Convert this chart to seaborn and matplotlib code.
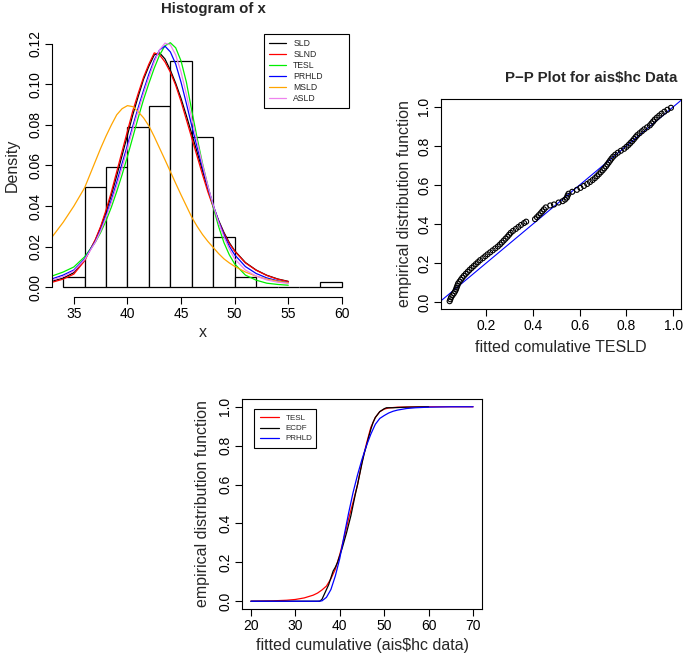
import numpy as np
import pandas as pd
import matplotlib
matplotlib.use("Agg")
import matplotlib.pyplot as plt
from matplotlib.lines import Line2D
import seaborn as sns

# Histogram of x (ais$hc), counts per 2-unit bin from 34 to 60
bin_edges = [34, 36, 38, 40, 42, 44, 46, 48, 50, 52, 54, 56, 58, 60]
bin_counts = [2, 20, 24, 32, 36, 45, 30, 10, 2, 0, 0, 0, 1]

# fitted densities
dens_x = [33, 34, 35, 36, 37, 37.5, 38, 38.5, 39, 39.5, 40, 40.5, 41, 41.5, 42, 42.5,
          43, 43.5, 44, 44.5, 45, 45.5, 46, 46.5, 47, 47.5, 48, 48.5, 49, 49.5, 50,
          51, 52, 53, 54, 55]
sld = [0.0030, 0.0045, 0.0072, 0.0135, 0.0232, 0.0295, 0.0370, 0.0455, 0.0550, 0.0650,
       0.0750, 0.0850, 0.0940, 0.1025, 0.1090, 0.1145, 0.1155, 0.1125, 0.1070, 0.1005,
       0.0930, 0.0845, 0.0755, 0.0665, 0.0575, 0.0485, 0.0400, 0.0330, 0.0270, 0.0220,
       0.0180, 0.0122, 0.0085, 0.0059, 0.0041, 0.0029]
slnd = [0.0025, 0.0040, 0.0065, 0.0130, 0.0235, 0.0300, 0.0380, 0.0470, 0.0570, 0.0670,
        0.0770, 0.0870, 0.0955, 0.1035, 0.1100, 0.1155, 0.1145, 0.1110, 0.1060, 0.0995,
        0.0915, 0.0825, 0.0735, 0.0645, 0.0555, 0.0470, 0.0395, 0.0325, 0.0265, 0.0215,
        0.0178, 0.0120, 0.0084, 0.0058, 0.0040, 0.0028]
tesl = [0.0056, 0.0075, 0.0100, 0.0150, 0.0222, 0.0270, 0.0328, 0.0395, 0.0472, 0.0555,
        0.0645, 0.0740, 0.0835, 0.0925, 0.1005, 0.1080, 0.1145, 0.1190, 0.1205, 0.1180,
        0.1115, 0.1010, 0.0870, 0.0735, 0.0610, 0.0500, 0.0395, 0.0300, 0.0220, 0.0160,
        0.0115, 0.0060, 0.0035, 0.0020, 0.0014, 0.0010]
prhld = [0.0042, 0.0060, 0.0085, 0.0140, 0.0225, 0.0283, 0.0352, 0.0430, 0.0518, 0.0610,
         0.0700, 0.0795, 0.0885, 0.0970, 0.1050, 0.1120, 0.1170, 0.1188, 0.1160, 0.1100,
         0.1010, 0.0905, 0.0795, 0.0690, 0.0590, 0.0495, 0.0405, 0.0325, 0.0258, 0.0202,
         0.0160, 0.0102, 0.0068, 0.0046, 0.0032, 0.0023]
msld = [0.0250, 0.0320, 0.0400, 0.0490, 0.0620, 0.0685, 0.0745, 0.0800, 0.0850, 0.0880,
        0.0895, 0.0890, 0.0865, 0.0835, 0.0795, 0.0742, 0.0685, 0.0628, 0.0570, 0.0512,
        0.0455, 0.0400, 0.0345, 0.0300, 0.0260, 0.0226, 0.0196, 0.0166, 0.0140, 0.0120,
        0.0103, 0.0075, 0.0055, 0.0040, 0.0030, 0.0022]
asld = [0.0036, 0.0053, 0.0080, 0.0136, 0.0222, 0.0278, 0.0344, 0.0418, 0.0500, 0.0590,
        0.0685, 0.0780, 0.0870, 0.0955, 0.1035, 0.1110, 0.1170, 0.1203, 0.1195, 0.1145,
        0.1060, 0.0950, 0.0830, 0.0715, 0.0605, 0.0500, 0.0405, 0.0320, 0.0248, 0.0188,
        0.0140, 0.0085, 0.0055, 0.0036, 0.0025, 0.0019]
curve_names = ["SLD", "SLND", "TESL", "PRHLD", "MSLD", "ASLD"]
curve_colors = ["black", "red", "#00ee00", "blue", "orange", "violet"]

# P-P plot: fitted TESLD cdf vs empirical cdf
pp_fit = [0.044, 0.047, 0.050, 0.056, 0.062, 0.067, 0.071, 0.074, 0.077, 0.080,
          0.086, 0.092, 0.098, 0.105, 0.113, 0.121, 0.129, 0.138, 0.147, 0.156,
          0.165, 0.174, 0.186, 0.196, 0.206, 0.217, 0.228, 0.239, 0.250, 0.259,
          0.267, 0.275, 0.283, 0.291, 0.298, 0.305, 0.315, 0.327, 0.338, 0.349,
          0.362, 0.371, 0.409, 0.417, 0.425, 0.433, 0.440, 0.447, 0.455, 0.474,
          0.490, 0.510, 0.527, 0.537, 0.545, 0.548, 0.552, 0.568, 0.588, 0.603,
          0.618, 0.632, 0.644, 0.655, 0.665, 0.674, 0.682, 0.690, 0.698, 0.705,
          0.712, 0.718, 0.724, 0.730, 0.736, 0.743, 0.752, 0.763, 0.776, 0.790,
          0.800, 0.809, 0.817, 0.825, 0.832, 0.839, 0.846, 0.856, 0.866, 0.876,
          0.888, 0.900, 0.907, 0.914, 0.921, 0.930, 0.940, 0.950, 0.962, 0.975, 0.990]
pp_emp = [0.005, 0.015, 0.025, 0.035, 0.045, 0.055, 0.065, 0.075, 0.085, 0.095,
          0.105, 0.115, 0.125, 0.135, 0.145, 0.155, 0.165, 0.175, 0.185, 0.195,
          0.205, 0.215, 0.225, 0.235, 0.245, 0.255, 0.265, 0.275, 0.285, 0.295,
          0.305, 0.315, 0.325, 0.335, 0.345, 0.355, 0.365, 0.375, 0.385, 0.395,
          0.405, 0.412, 0.425, 0.435, 0.445, 0.455, 0.465, 0.475, 0.485, 0.495,
          0.500, 0.510, 0.517, 0.525, 0.535, 0.545, 0.555, 0.565, 0.575, 0.585,
          0.595, 0.605, 0.615, 0.625, 0.635, 0.645, 0.655, 0.665, 0.675, 0.685,
          0.695, 0.705, 0.715, 0.725, 0.735, 0.745, 0.755, 0.765, 0.775, 0.785,
          0.795, 0.805, 0.815, 0.825, 0.835, 0.845, 0.855, 0.865, 0.875, 0.885,
          0.895, 0.905, 0.915, 0.925, 0.935, 0.945, 0.955, 0.965, 0.975, 0.985, 0.995]

# cdf comparison
tesl_cdf_x = [20, 25, 28, 30, 32, 34, 35, 36, 37, 38, 39, 40, 41, 42, 43, 44, 45, 46,
              47, 48, 49, 50, 51, 53, 56, 60, 70]
tesl_cdf = [0.000, 0.002, 0.005, 0.009, 0.017, 0.031, 0.042, 0.058, 0.078, 0.115, 0.165,
            0.240, 0.330, 0.425, 0.510, 0.600, 0.715, 0.810, 0.895, 0.945, 0.975, 0.988,
            0.994, 0.998, 0.999, 1.000, 1.000]
ecdf_x = [20, 35.5, 36, 37, 37.5, 38, 38.5, 39, 39.5, 40, 40.5, 41, 41.5, 42, 42.5, 43,
          43.5, 44, 44.5, 45, 45.5, 46, 46.5, 47, 47.5, 48, 48.5, 49, 50, 50.5, 52, 55, 60]
ecdf_y = [0.000, 0.000, 0.010, 0.060, 0.085, 0.120, 0.155, 0.175, 0.200, 0.235, 0.270,
          0.310, 0.350, 0.395, 0.440, 0.495, 0.550, 0.600, 0.655, 0.710, 0.760, 0.800,
          0.845, 0.885, 0.920, 0.945, 0.960, 0.975, 0.990, 0.995, 0.995, 0.998, 1.000]
prhld_cdf_x = [20, 35, 36, 37, 38, 39, 40, 41, 42, 43, 44, 45, 46, 47, 48, 49, 50, 51,
               52, 53, 55, 57, 60, 65, 70]
prhld_cdf = [0.000, 0.000, 0.002, 0.020, 0.060, 0.130, 0.220, 0.340, 0.455, 0.560, 0.650,
             0.730, 0.800, 0.860, 0.910, 0.940, 0.955, 0.968, 0.977, 0.983, 0.991, 0.995,
             0.998, 1.000, 1.000]

sns.set_style("ticks")
plt.rcParams["font.family"] = ["Liberation Sans", "DejaVu Sans"]
plt.rcParams["axes.linewidth"] = 0.8
plt.rcParams["xtick.major.size"] = 5
plt.rcParams["ytick.major.size"] = 5
plt.rcParams["xtick.major.width"] = 0.8
plt.rcParams["ytick.major.width"] = 0.8
plt.rcParams["xtick.color"] = "black"
plt.rcParams["ytick.color"] = "black"
plt.rcParams["axes.edgecolor"] = "black"

W, H = 685, 653
fig = plt.figure(figsize=(W / 100, H / 100), dpi=100)


def box(l, t, r, b):
    return [l / W, 1 - b / H, (r - l) / W, (b - t) / H]


def r_ticks(ax):
    ax.tick_params(axis="both", labelsize=10, pad=2)
    ax.tick_params(axis="y", labelrotation=90)
    for lab in ax.get_yticklabels():
        lab.set_va("center")


# ---- panel 1: histogram with fitted densities
ax1 = fig.add_axes(box(52, 34, 353, 297))
hist_mid = [(a + b) / 2 for a, b in zip(bin_edges[:-1], bin_edges[1:])]
sns.histplot(x=hist_mid, weights=bin_counts, bins=bin_edges, stat="density",
             color="white", edgecolor="black", linewidth=0.9, alpha=1, ax=ax1)
for name, col, vals in zip(curve_names, curve_colors, [sld, slnd, tesl, prhld, msld, asld]):
    sns.lineplot(x=dens_x, y=vals, color=col, lw=0.9, ax=ax1, sort=False)
ax1.set_xlim(32.96, 61.04)
ax1.set_ylim(-0.0048, 0.1248)
ax1.set_xticks([35, 40, 45, 50, 55, 60])
ax1.set_yticks([0, 0.02, 0.04, 0.06, 0.08, 0.10, 0.12])
ax1.set_yticklabels(["0.00", "0.02", "0.04", "0.06", "0.08", "0.10", "0.12"])
ax1.spines["top"].set_visible(False)
ax1.spines["right"].set_visible(False)
ax1.spines["left"].set_bounds(0, 0.12)
ax1.spines["bottom"].set_bounds(35, 60)
r_ticks(ax1)
ax1.set_xlabel("x", fontsize=11.5, labelpad=3)
ax1.set_ylabel("Density", fontsize=11.5, labelpad=6)
handles = [Line2D([], [], color=c, lw=0.9) for c in curve_colors]
leg = ax1.legend(handles, curve_names, loc="upper left",
                 bbox_to_anchor=(264 / W, 1 - 34 / H, 85 / W, 0.0),
                 bbox_transform=fig.transFigure, mode="expand", fontsize=6.2,
                 frameon=True, fancybox=False, edgecolor="black", framealpha=1,
                 handlelength=1.9, handletextpad=0.9, labelspacing=0.22,
                 borderpad=0.6, borderaxespad=0)
leg.get_frame().set_linewidth(0.8)
fig.text(213.5 / W, 1 - 9 / H, "Histogram of x", ha="center", va="center",
         fontsize=10.8, fontweight="bold")

# ---- panel 2: P-P plot
ax2 = fig.add_axes(box(441, 99, 681, 309))
sns.scatterplot(x=pp_fit, y=pp_emp, marker="o", s=13, facecolors="none",
                edgecolors="black", linewidth=0.8, ax=ax2, zorder=3)
ax2.axline((0, 0), (1, 1), color="blue", lw=0.8, zorder=2)
ax2.set_xlim(0.007, 1.033)
ax2.set_ylim(-0.035, 1.04)
ax2.set_xticks([0.2, 0.4, 0.6, 0.8, 1.0])
ax2.set_xticklabels(["0.2", "0.4", "0.6", "0.8", "1.0"])
ax2.set_yticks([0.0, 0.2, 0.4, 0.6, 0.8, 1.0])
ax2.set_yticklabels(["0.0", "0.2", "0.4", "0.6", "0.8", "1.0"])
r_ticks(ax2)
ax2.set_xlabel("fitted comulative TESLD", fontsize=11.5, labelpad=5)
ax2.set_ylabel("empirical distribution function", fontsize=11.5, labelpad=4)
fig.text(591 / W, 1 - 78 / H, "P\u2212P Plot for ais$hc Data", ha="center", va="center",
         fontsize=10.8, fontweight="bold")

# ---- panel 3: cdfs
ax3 = fig.add_axes(box(242, 399, 482, 609))
sns.lineplot(x=tesl_cdf_x, y=tesl_cdf, color="red", lw=0.9, ax=ax3, sort=False)
sns.lineplot(x=ecdf_x, y=ecdf_y, color="black", lw=0.9, ax=ax3, sort=False)
sns.lineplot(x=prhld_cdf_x, y=prhld_cdf, color="blue", lw=0.9, ax=ax3, sort=False)
ax3.set_xlim(18, 72)
ax3.set_ylim(-0.04, 1.04)
ax3.set_xticks([20, 30, 40, 50, 60, 70])
ax3.set_yticks([0.0, 0.2, 0.4, 0.6, 0.8, 1.0])
ax3.set_yticklabels(["0.0", "0.2", "0.4", "0.6", "0.8", "1.0"])
r_ticks(ax3)
ax3.set_xlabel("fitted cumulative (ais$hc data)", fontsize=11.5, labelpad=4)
ax3.set_ylabel("empirical distribution function", fontsize=11.5, labelpad=6)
h3 = [Line2D([], [], color=c, lw=0.9) for c in ["red", "black", "blue"]]
leg3 = ax3.legend(h3, ["TESL", "ECDF", "PRHLD"], loc="upper left",
                  bbox_to_anchor=(254 / W, 1 - 409 / H, 62 / W, 0.0),
                  bbox_transform=fig.transFigure, mode="expand", fontsize=5.8,
                  frameon=True, fancybox=False, edgecolor="black", framealpha=1,
                  handlelength=2.4, handletextpad=0.8, labelspacing=0.3,
                  borderpad=0.7, borderaxespad=0)
leg3.get_frame().set_linewidth(0.8)

fig.savefig("out.png", dpi=100)
